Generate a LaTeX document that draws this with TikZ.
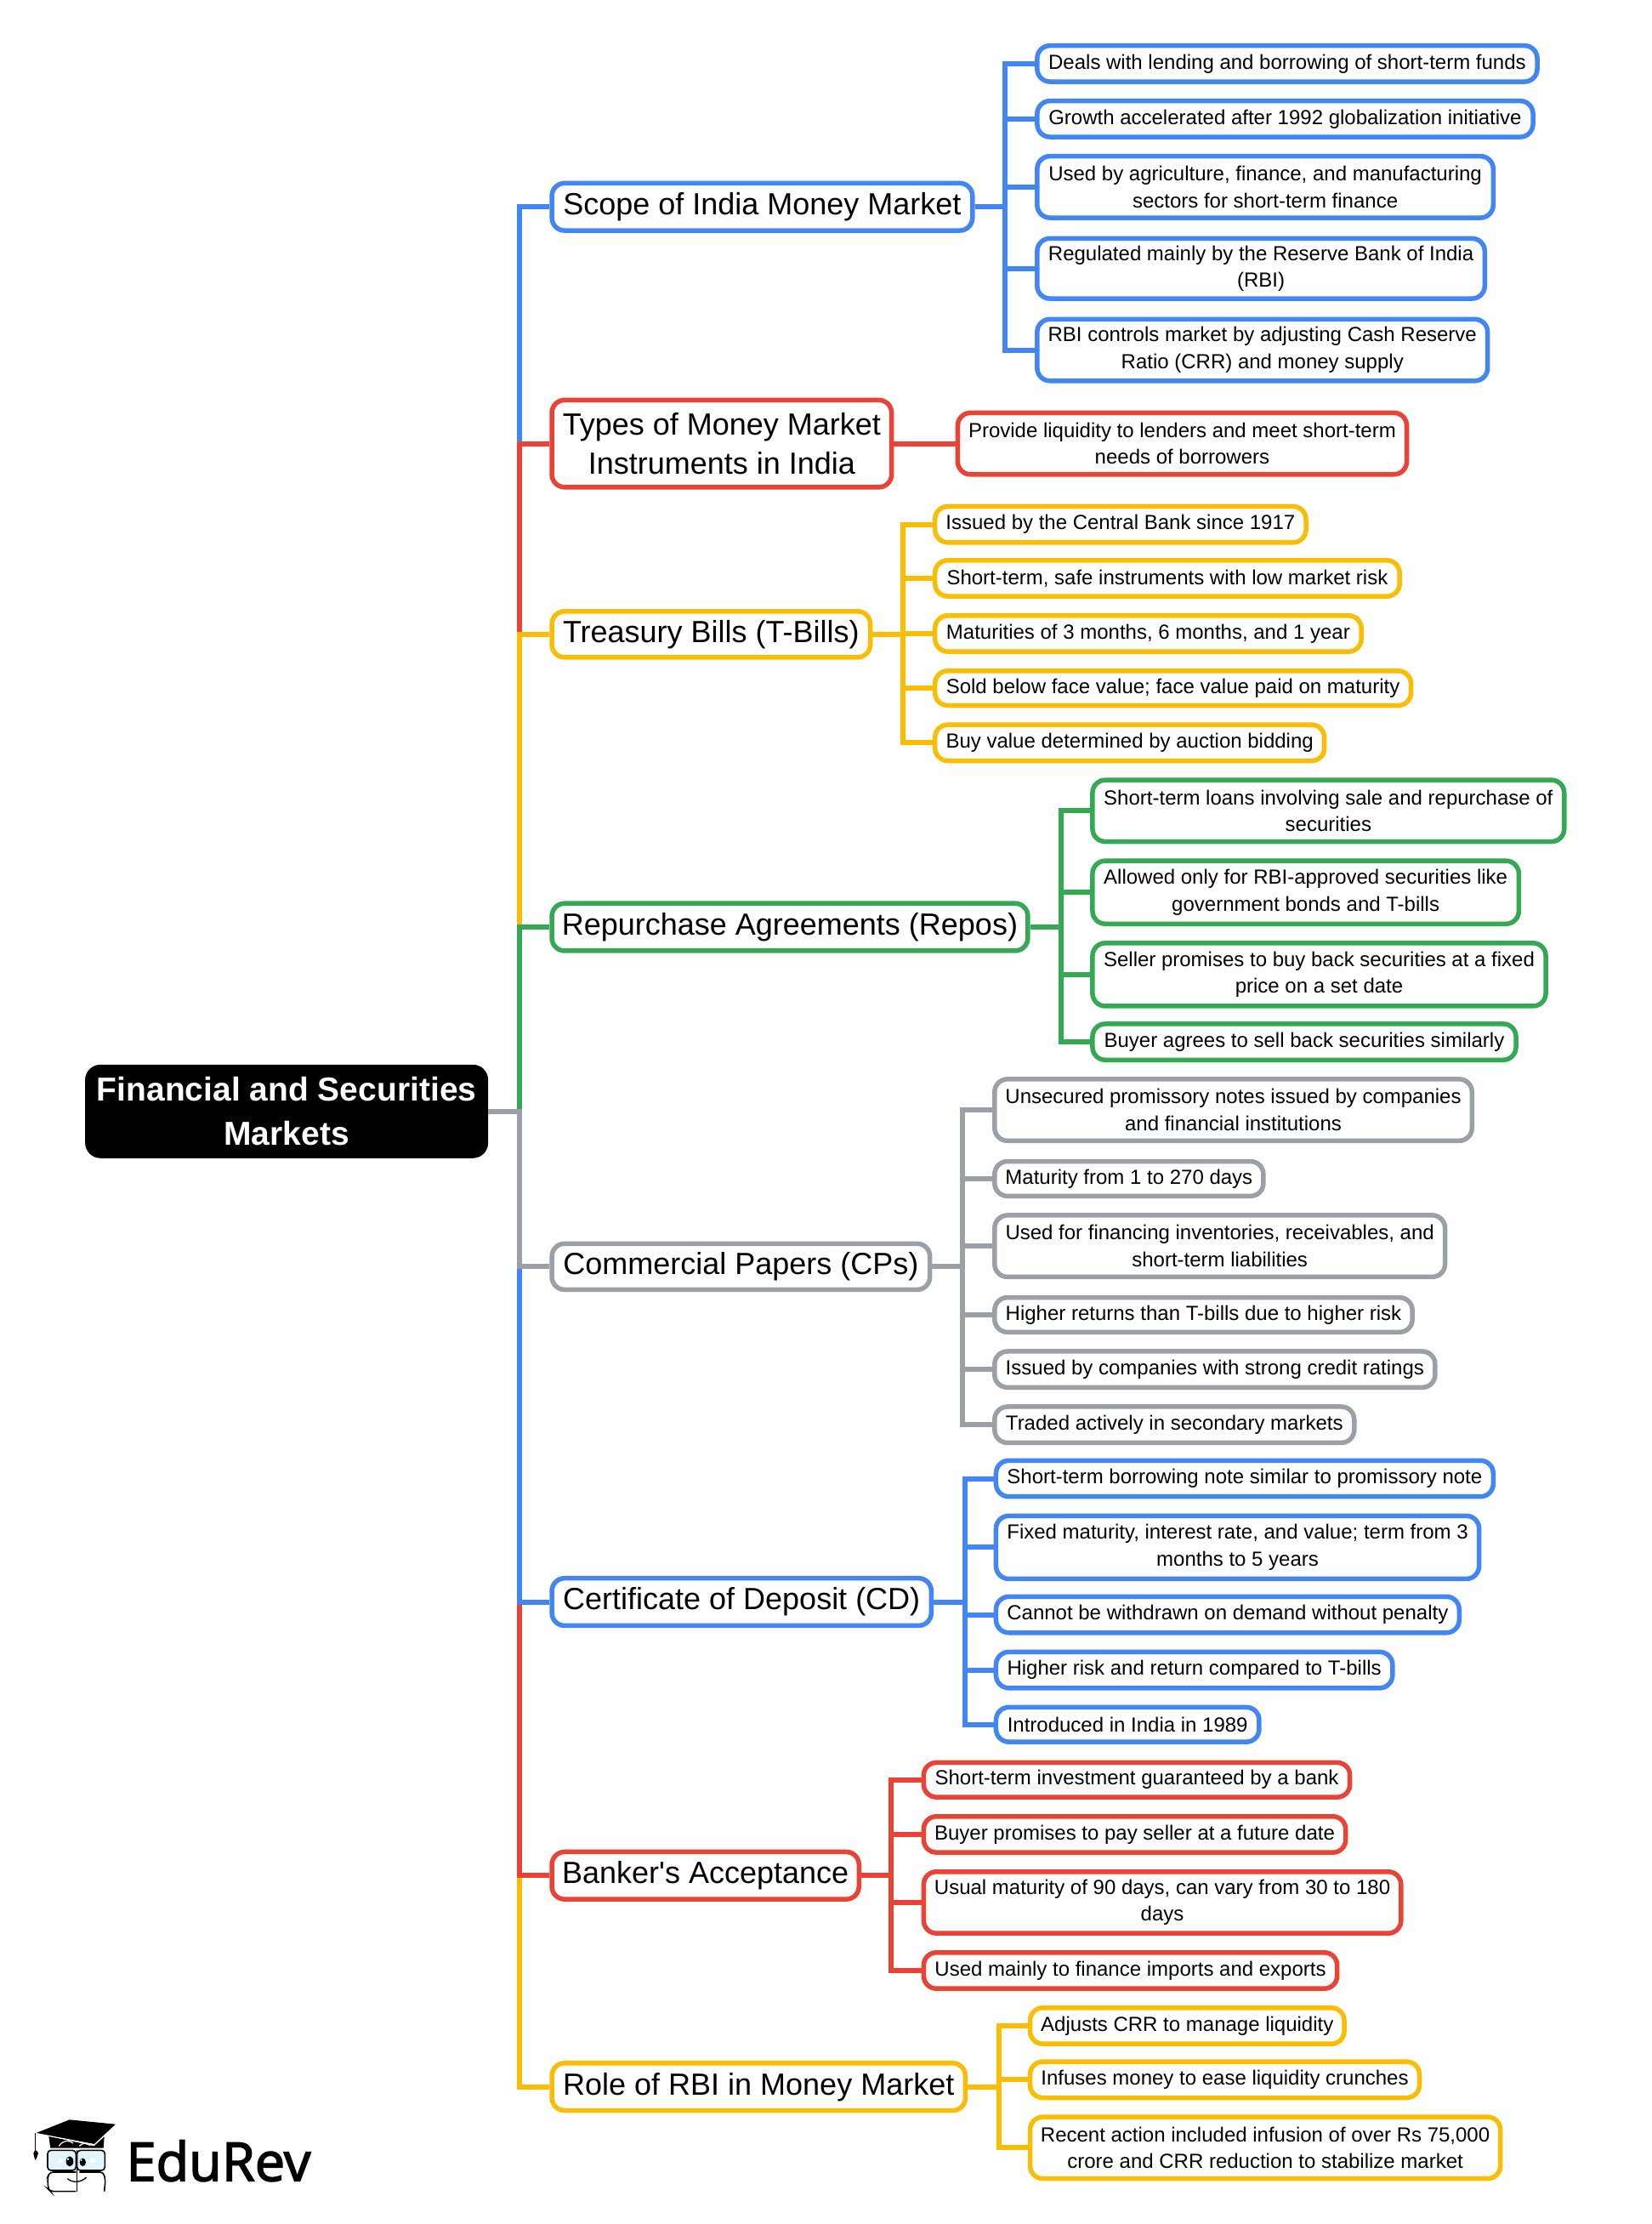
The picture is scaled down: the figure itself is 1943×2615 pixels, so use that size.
\documentclass[tikz,border=0pt]{standalone}
\usepackage{fontspec}
\setmainfont{Liberation Sans}[Ligatures=TeXOff]
\newfontfamily\logofont{Open Sans}[FakeBold=2.5]
\definecolor{cblue}{HTML}{4285F4}
\definecolor{cred}{HTML}{EA4335}
\definecolor{cyel}{HTML}{FBBC04}
\definecolor{cgrn}{HTML}{34A853}
\definecolor{cgry}{HTML}{9AA0A6}
\tikzset{
  base/.style={rounded corners=15pt,line width=5.5pt,fill=white,text=black,inner sep=0pt,align=center},
  big/.style={base,font=\fontsize{36}{46.6}\selectfont},
  small/.style={base,font=\fontsize{24}{31.6}\selectfont},
  rootbox/.style={rounded corners=18pt,fill=black,text=white,inner sep=0pt,align=center,outer sep=0pt,font=\bfseries\fontsize{39}{51.6}\selectfont},
  link/.style={line width=6pt,miter limit=10}
}
\newcommand{\nd}[7]{%
  \pgfmathsetmacro{\cxx}{(#2+#3)/2-0.4}\pgfmathsetmacro{\cyy}{(#4+#5)/2}%
  \pgfmathsetmacro{\ww}{(#3-#2)*1.669-1}\pgfmathsetmacro{\hh}{(#5-#4)*1.669-1}%
  \node[#6,minimum width=\ww pt,minimum height=\hh pt] (#1) at (\cxx,\cyy) {#7};}
\begin{document}
\begin{tikzpicture}[x=1.669pt,y=-1.667pt]
\useasboundingbox (0pt,0pt) rectangle (1943pt,-2615pt);
\begin{scope}[yshift=-1.5pt]
% root
\node[rootbox,minimum width=474pt,minimum height=110pt] (root) at (202,783) {Financial and Securities\\Markets};
\coordinate (rj) at (366,783);
% level 1
\nd{scope}{389}{686}{128}{162}{big,draw=cblue}{Scope of India Money Market}
\nd{types}{389}{629}{281}{343}{big,draw=cred}{Types of Money Market\\Instruments in India}
\nd{tb}{389}{614}{430}{463}{big,draw=cyel}{Treasury Bills (T-Bills)}
\nd{rep}{389}{725}{636}{670}{big,draw=cgrn}{Repurchase Agreements (Repos)}
\nd{cp}{389}{656}{876}{909}{big,draw=cgry}{Commercial Papers (CPs)}
\nd{cd}{389}{657}{1112}{1146}{big,draw=cblue}{Certificate of Deposit (CD)}
\nd{ba}{389}{606}{1305}{1339}{big,draw=cred}{Banker's Acceptance}
\nd{rbi}{389}{681}{1454}{1488}{big,draw=cyel}{Role of RBI in Money Market}
% scope children
\nd{s1}{731}{1084}{31}{57}{small,draw=cblue}{Deals with lending and borrowing of short-term funds}
\nd{s2}{731}{1081}{70}{96}{small,draw=cblue}{Growth accelerated after 1992 globalization initiative}
\nd{s3}{731}{1053}{109}{153}{small,draw=cblue}{Used by agriculture, finance, and manufacturing\\sectors for short-term finance}
\nd{s4}{731}{1047}{167}{210}{small,draw=cblue}{Regulated mainly by the Reserve Bank of India\\(RBI)}
\nd{s5}{731}{1049}{224}{268}{small,draw=cblue}{RBI controls market by adjusting Cash Reserve\\Ratio (CRR) and money supply}
\nd{t1}{675}{992}{290}{334}{small,draw=cred}{Provide liquidity to lenders and meet short-term\\needs of borrowers}
\nd{b1}{659}{921}{356}{382}{small,draw=cyel}{Issued by the Central Bank since 1917}
\nd{b2}{659}{987}{394}{420}{small,draw=cyel}{Short-term, safe instruments with low market risk}
\nd{b3}{659}{960}{433}{459}{small,draw=cyel}{Maturities of 3 months, 6 months, and 1 year}
\nd{b4}{659}{995}{472}{497}{small,draw=cyel}{Sold below face value; face value paid on maturity}
\nd{b5}{659}{934}{510}{536}{small,draw=cyel}{Buy value determined by auction bidding}
\nd{r1}{770}{1103}{549}{593}{small,draw=cgrn}{Short-term loans involving sale and repurchase of\\securities}
\nd{r2}{770}{1071}{606}{651}{small,draw=cgrn}{Allowed only for RBI-approved securities like\\government bonds and T-bills}
\nd{r3}{770}{1090}{664}{709}{small,draw=cgrn}{Seller promises to buy back securities at a fixed\\price on a set date}
\nd{r4}{770}{1069}{721}{747}{small,draw=cgrn}{Buyer agrees to sell back securities similarly}
\nd{c1}{701}{1038}{760}{804}{small,draw=cgry}{Unsecured promissory notes issued by companies\\and financial institutions}
\nd{c2}{701}{891}{818}{843}{small,draw=cgry}{Maturity from 1 to 270 days}
\nd{c3}{701}{1019}{856}{900}{small,draw=cgry}{Used for financing inventories, receivables, and\\short-term liabilities}
\nd{c4}{701}{996}{914}{939}{small,draw=cgry}{Higher returns than T-bills due to higher risk}
\nd{c5}{701}{1012}{952}{978}{small,draw=cgry}{Issued by companies with strong credit ratings}
\nd{c6}{701}{955}{991}{1017}{small,draw=cgry}{Traded actively in secondary markets}
\nd{d1}{702}{1053}{1029}{1055}{small,draw=cblue}{Short-term borrowing note similar to promissory note}
\nd{d2}{702}{1043}{1068}{1113}{small,draw=cblue}{Fixed maturity, interest rate, and value; term from 3\\months to 5 years}
\nd{d3}{702}{1029}{1125}{1151}{small,draw=cblue}{Cannot be withdrawn on demand without penalty}
\nd{d4}{702}{982}{1164}{1190}{small,draw=cblue}{Higher risk and return compared to T-bills}
\nd{d5}{702}{888}{1203}{1228}{small,draw=cblue}{Introduced in India in 1989}
\nd{a1}{651}{952}{1242}{1267}{small,draw=cred}{Short-term investment guaranteed by a bank}
\nd{a2}{651}{949}{1280}{1306}{small,draw=cred}{Buyer promises to pay seller at a future date}
\nd{a3}{651}{988}{1319}{1363}{small,draw=cred}{Usual maturity of 90 days, can vary from 30 to 180\\days}
\nd{a4}{651}{943}{1376}{1402}{small,draw=cred}{Used mainly to finance imports and exports}
\nd{i1}{726}{948}{1415}{1441}{small,draw=cyel}{Adjusts CRR to manage liquidity}
\nd{i2}{726}{1001}{1453}{1479}{small,draw=cyel}{Infuses money to ease liquidity crunches}
\nd{i3}{726}{1058}{1492}{1536}{small,draw=cyel}{Recent action included infusion of over Rs 75,000\\crore and CRR reduction to stabilize market}
% root connectors (farthest first so nearer branches lie on top)
\draw[link,cblue] (root.east) -- (rj) |- (scope.west);
\draw[link,cred] (root.east) -- (rj) |- (types.west);
\draw[link,cyel] (root.east) -- (rj) |- (tb.west);
\draw[link,cgrn] (root.east) -- (rj) |- (rep.west);
\draw[link,cyel] (root.east) -- (rj) |- (rbi.west);
\draw[link,cred] (root.east) -- (rj) |- (ba.west);
\draw[link,cblue] (root.east) -- (rj) |- (cd.west);
\draw[link,cgry] (root.east) -- (rj) |- (cp.west);
% second level connectors
\coordinate (sj) at (708,145);
\foreach \k in {s1,s2,s3,s4,s5} \draw[link,cblue] (scope.east) -- (sj) |- (\k.west);
\draw[link,cred] (types.east) -- (t1.west);
\coordinate (bj) at (636,446.5);
\foreach \k in {b1,b2,b3,b4,b5} \draw[link,cyel] (tb.east) -- (bj) |- (\k.west);
\coordinate (pj) at (748,653);
\foreach \k in {r1,r2,r3,r4} \draw[link,cgrn] (rep.east) -- (pj) |- (\k.west);
\coordinate (cj) at (678,892.5);
\foreach \k in {c1,c2,c3,c4,c5,c6} \draw[link,cgry] (cp.east) -- (cj) |- (\k.west);
\coordinate (dj) at (680,1129);
\foreach \k in {d1,d2,d3,d4,d5} \draw[link,cblue] (cd.east) -- (dj) |- (\k.west);
\coordinate (aj) at (628,1322);
\foreach \k in {a1,a2,a3,a4} \draw[link,cred] (ba.east) -- (aj) |- (\k.west);
\coordinate (ij) at (704,1471);
\foreach \k in {i1,i2,i3} \draw[link,cyel] (rbi.east) -- (ij) |- (\k.west);
\end{scope}
% logo
\begin{scope}[x=0.33333pt,y=-0.33333pt,yshift=-2350pt]
\fill[black] (172,485) -- (178,527) -- (365,527) -- (368,487) -- (332,520) -- cycle;
\fill[black] (125,475) -- (245,427) -- (408,443) -- (332,513) -- cycle;
\draw[white,line width=1.2pt] (125,475) -- (332,515);
\draw[black,line width=1.2pt] (125,475) -- (125,540);
\fill[black] (118,545) .. controls (122,532) and (130,532) .. (135,545) .. controls (135,555) and (128,560) .. (125,570) .. controls (122,560) and (118,555) .. (118,545) -- cycle;
\draw[white,line width=1.2pt] (208,520) .. controls (222,498) and (245,498) .. (258,510);
\draw[white,line width=1.2pt] (280,520) .. controls (290,508) and (305,508) .. (318,518);
\draw[black,line width=1.6pt,fill=cyan!12,rounded corners=4pt] (168,535) rectangle (268,606);
\draw[black,line width=1.6pt,fill=cyan!12,rounded corners=4pt] (272,535) rectangle (370,606);
\draw[black,line width=1.6pt,rounded corners=4pt] (268,612) -- (175,612) -- (168,630) -- (170,672) -- (178,680) -- (268,680);
\draw[black,line width=1.6pt,rounded corners=4pt] (280,612) -- (365,612) -- (372,640) -- (368,680);
\draw[black,line width=1.4pt] (272,535) -- (272,680);
\fill[black] (246,574) ellipse [x radius=13,y radius=18];
\fill[black] (292,577) ellipse [x radius=11,y radius=14];
\fill[white] (240,566) circle [radius=4];
\fill[white] (287,570) circle [radius=3];
\fill[white] (206,564) rectangle (222,580);
\fill[white] (318,564) rectangle (336,580);
\draw[black,line width=1.3pt] (238,635) .. controls (255,650) and (285,650) .. (305,630);
\node[anchor=base west,inner sep=0pt,font=\logofont\fontsize{63}{63}\selectfont] (logo) at (445,643) {EduRev};
\end{scope}
\end{tikzpicture}
\end{document}
